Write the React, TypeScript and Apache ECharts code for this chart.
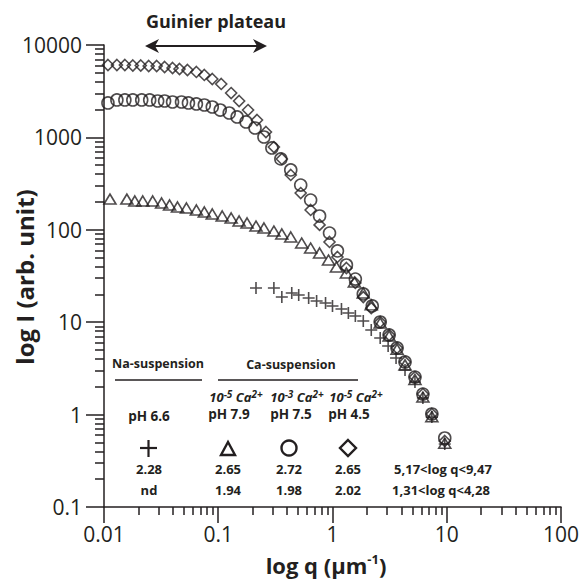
import React, { useEffect, useRef } from 'react';
import * as echarts from 'echarts';

const INK = '#231f20';
const FONT = '"Open Sans", "Noto Sans", sans-serif';

// axis ranges and tick labels
const X_MIN = 0.01;
const X_MAX = 100;
const Y_MIN = 0.1;
const Y_MAX = 10000;
const X_DECADES = [0.01, 0.1, 1, 10];
const Y_DECADES = [0.1, 1, 10, 100, 1000];
const MINOR_MULTIPLES = [2, 3, 4, 5, 6, 7, 8, 9];

// 10^-5 Ca2+, pH 4.5  (diamonds)
const diamondData = [
  [0.01083, 6075], [0.01297, 6075], [0.01523, 6075], [0.01788, 6000], [0.02098, 6000],
  [0.02462, 5926], [0.0289, 5926], [0.03392, 5780], [0.03981, 5638], [0.0458, 5499],
  [0.05375, 5363], [0.06437, 5104], [0.07555, 4736], [0.08867, 4286], [0.1062, 3785],
  [0.1297, 3023], [0.1523, 2477], [0.1824, 1979], [0.2184, 1543], [0.2615, 1144],
  [0.3069, 787], [0.3602, 584], [0.4312, 392], [0.5269, 250], [0.6437, 164],
  [0.7709, 113], [0.9417, 73.8], [1.105, 50.8], [1.324, 38.6], [1.585, 26.6],
  [1.86, 18.7], [2.184, 14.2], [2.615, 10.05], [3.132, 7.27], [3.674, 5.26],
  [4.313, 3.71], [5.27, 2.55], [6.184, 1.67], [7.407, 1.015], [9.607, 0.518],
];

// 10^-3 Ca2+, pH 7.5  (circles)
const circleData = [
  [0.01083, 2357], [0.01297, 2540], [0.01523, 2540], [0.01788, 2540], [0.02139, 2540],
  [0.02512, 2540], [0.02949, 2477], [0.03392, 2477], [0.03981, 2416], [0.04769, 2416],
  [0.05484, 2357], [0.06437, 2299], [0.07555, 2242], [0.08867, 2133], [0.1041, 1979],
  [0.1247, 1837], [0.1463, 1663], [0.1752, 1468], [0.2098, 1264], [0.2512, 1010],
  [0.2948, 768], [0.3531, 584], [0.4312, 444], [0.5269, 305], [0.6437, 210],
  [0.7709, 141], [0.9417, 92.3], [1.105, 59.0], [1.324, 41.6], [1.585, 29.3],
  [1.86, 20.2], [2.228, 15.0], [2.615, 10.05], [3.132, 7.27], [3.674, 5.26],
  [4.313, 3.71], [5.27, 2.55], [6.184, 1.67], [7.407, 1.015], [9.607, 0.558],
];

// 10^-5 Ca2+, pH 7.9  (triangles)
const triangleData = [
  [0.01128, 215], [0.01585, 215], [0.01861, 205], [0.02184, 205], [0.02668, 205],
  [0.03192, 195], [0.0375, 185.5], [0.04399, 176.5], [0.05268, 172.2], [0.06437, 163.8],
  [0.07555, 155.8], [0.08867, 148.3], [0.1083, 141.1], [0.1297, 134.2], [0.1523, 124.5],
  [0.1787, 118.5], [0.214, 109.9], [0.2512, 104.6], [0.3069, 97.0], [0.3602, 90.1],
  [0.4312, 83.6], [0.5375, 71.9], [0.6437, 63.5], [0.7709, 56.1], [0.923, 47.1],
  [1.083, 39.6], [1.324, 34.1], [1.554, 27.2], [1.86, 20.7], [2.184, 15.4],
  [2.615, 9.8], [3.132, 7.1], [3.674, 5.1], [4.313, 3.45], [5.27, 2.4],
  [6.184, 1.55], [7.407, 0.95], [9.607, 0.49],
];

// Na-suspension, pH 6.6  (plus)
const plusData = [
  [0.214, 23.45], [0.3069, 23.45], [0.3602, 18.74], [0.4399, 20.7], [0.5061, 19.7],
  [0.6185, 18.27], [0.7261, 16.96], [0.8693, 16.14], [1.0, 14.97], [1.198, 13.9],
  [1.377, 12.58], [1.585, 11.67], [1.86, 10.3], [2.184, 8.23], [2.615, 6.75],
  [3.069, 5.53], [3.601, 4.1], [4.313, 3.04], [5.27, 2.25], [6.184, 1.51],
  [7.407, 0.94], [9.607, 0.48],
];

// table texts
const TABLE_HEADERS = ['Na-suspension', 'Ca-suspension'];
const CA_LABELS = ['-5', '-3', '-5'];
const PH_LABELS = ['pH 6.6', 'pH 7.9', 'pH 7.5', 'pH 4.5'];
const ROW1 = ['2.28', '2.65', '2.72', '2.65', '5,17<log q<9,47'];
const ROW2 = ['nd', '1.94', '1.98', '2.02', '1,31<log q<4,28'];

const fmt = (v: number) => String(parseFloat(v.toPrecision(6)));

function buildGraphic(): any[] {
  const txt = (text: string, x: number, y: number, size: number) => ({
    type: 'text',
    x,
    y,
    silent: true,
    style: {
      text,
      fontSize: size,
      fontWeight: 'bold',
      fontFamily: FONT,
      fill: INK,
      align: 'center',
      verticalAlign: 'middle',
    },
  });

  const caText = (exp: string, x: number) => ({
    type: 'text',
    x,
    y: 397,
    silent: true,
    style: {
      text: `{b|10}{s|${exp}}{b| Ca}{s|2+}`,
      align: 'center',
      verticalAlign: 'middle',
      rich: {
        b: { fontSize: 13, fontWeight: 'bold', fontStyle: 'italic', fontFamily: FONT, fill: INK, lineHeight: 17 },
        s: { fontSize: 10, fontWeight: 'bold', fontStyle: 'italic', fontFamily: FONT, fill: INK, verticalAlign: 'top', lineHeight: 17 },
      },
    },
  });

  const colX = [149, 228, 289, 348, 443];

  const graphic: any[] = [
    txt('Guinier plateau', 216, 21, 18),
    { type: 'line', silent: true, shape: { x1: 154, y1: 46, x2: 258, y2: 46 }, style: { stroke: INK, lineWidth: 2 } },
    { type: 'polygon', silent: true, shape: { points: [[145, 46], [159, 39], [155, 46], [159, 53]] }, style: { fill: INK } },
    { type: 'polygon', silent: true, shape: { points: [[267, 46], [253, 39], [257, 46], [253, 53]] }, style: { fill: INK } },
    {
      type: 'text', silent: true, x: 24, y: 277, rotation: Math.PI / 2,
      style: { text: 'log I (arb. unit)', fontSize: 24, fontWeight: 'bold', fontFamily: FONT, fill: INK, align: 'center', verticalAlign: 'middle' },
    },
    {
      type: 'text', silent: true, x: 326, y: 565,
      style: {
        text: '{t|log q (µm}{s|-1}{t|)}',
        align: 'center', verticalAlign: 'middle',
        rich: {
          t: { fontSize: 22, fontWeight: 'bold', fontFamily: FONT, fill: INK, lineHeight: 26 },
          s: { fontSize: 13, fontWeight: 'bold', fontFamily: FONT, fill: INK, verticalAlign: 'top', lineHeight: 26 },
        },
      },
    },
    txt(TABLE_HEADERS[0], 158, 363, 12.5),
    txt(TABLE_HEADERS[1], 291, 364, 12.5),
    { type: 'line', silent: true, shape: { x1: 115, y1: 380, x2: 202, y2: 380 }, style: { stroke: INK, lineWidth: 1.5 } },
    { type: 'line', silent: true, shape: { x1: 218, y1: 380, x2: 358, y2: 380 }, style: { stroke: INK, lineWidth: 1.5 } },
    caText(CA_LABELS[0], 236),
    caText(CA_LABELS[1], 297),
    caText(CA_LABELS[2], 356),
    { type: 'line', silent: true, shape: { x1: 140, y1: 448, x2: 157, y2: 448 }, style: { stroke: INK, lineWidth: 2.2 } },
    { type: 'line', silent: true, shape: { x1: 148.5, y1: 440, x2: 148.5, y2: 457 }, style: { stroke: INK, lineWidth: 2.2 } },
    { type: 'polygon', silent: true, shape: { points: [[228, 442], [221, 455], [235, 455]] }, style: { fill: 'none', stroke: INK, lineWidth: 2.4 } },
    { type: 'circle', silent: true, shape: { cx: 289, cy: 448, r: 7.5 }, style: { fill: 'none', stroke: INK, lineWidth: 2.4 } },
    { type: 'polygon', silent: true, shape: { points: [[348, 440], [356, 448], [348, 456], [340, 448]] }, style: { fill: 'none', stroke: INK, lineWidth: 2.4 } },
  ];
  PH_LABELS.forEach((t, i) => graphic.push(txt(t, [149, 229, 291, 349][i], i === 0 ? 416 : 414, 13.5)));
  ROW1.forEach((t, i) => graphic.push(txt(t, colX[i], 469, 13)));
  ROW2.forEach((t, i) => graphic.push(txt(t, colX[i] + (i === 4 ? -2 : 0), 490, 13)));
  return graphic;
}

function buildOption() {
  const markerStyle = { color: 'rgba(0,0,0,0)', borderColor: INK, borderWidth: 1.6 };
  const tickLine = { color: INK, width: 1.5 };

  // minor ticks: helper linear axes counted in decades from each axis minimum
  const xLo = Math.log10(X_MIN);
  const yLo = Math.log10(Y_MIN);
  const xMinor: number[] = [];
  X_DECADES.forEach((d) => MINOR_MULTIPLES.forEach((m) => xMinor.push(Math.log10(d * m) - xLo)));
  const yMinor: number[] = [];
  Y_DECADES.forEach((d) => MINOR_MULTIPLES.forEach((m) => yMinor.push(Math.log10(d * m) - yLo)));
  const EPS = 1e-4;

  return {
    animation: false,
    grid: { left: 104, right: 18, top: 45, bottom: 75, containLabel: false },
    xAxis: [
      {
        type: 'log', logBase: 10, min: X_MIN, max: X_MAX, position: 'bottom',
        axisLine: { show: true, onZero: false, lineStyle: tickLine },
        axisTick: { show: true, length: 16, inside: false, lineStyle: tickLine },
        axisLabel: { margin: 16, fontSize: 21, fontFamily: FONT, color: INK, formatter: fmt, showMinLabel: true, showMaxLabel: true },
        splitLine: { show: false },
      },
      {
        type: 'value', min: -EPS, max: Math.log10(X_MAX) - xLo, position: 'bottom',
        axisLine: { show: false, onZero: true, onZeroAxisIndex: 1 },
        axisTick: { show: true, length: 8, inside: false, customValues: xMinor, lineStyle: tickLine },
        axisLabel: { show: false },
        splitLine: { show: false },
      },
    ],
    yAxis: [
      {
        type: 'log', logBase: 10, min: Y_MIN, max: Y_MAX, position: 'left',
        axisLine: { show: true, onZero: false, lineStyle: tickLine },
        axisTick: { show: true, length: 18, inside: false, lineStyle: tickLine },
        axisLabel: { margin: 22, fontSize: 21, fontFamily: FONT, color: INK, formatter: fmt, showMinLabel: true, showMaxLabel: true },
        splitLine: { show: false },
      },
      {
        type: 'value', min: -EPS, max: Math.log10(Y_MAX) - yLo, position: 'left',
        axisLine: { show: false, onZero: true, onZeroAxisIndex: 1 },
        axisTick: { show: true, length: 9, inside: false, customValues: yMinor, lineStyle: tickLine },
        axisLabel: { show: false },
        splitLine: { show: false },
      },
    ],
    series: [
      { name: 'pH 4.5', type: 'scatter', data: diamondData, symbol: 'diamond', symbolSize: [11, 11], itemStyle: markerStyle, clip: false },
      { name: 'pH 7.5', type: 'scatter', data: circleData, symbol: 'circle', symbolSize: 12, itemStyle: markerStyle, clip: false },
      { name: 'pH 7.9', type: 'scatter', data: triangleData, symbol: 'triangle', symbolSize: [12, 10], itemStyle: markerStyle, clip: false },
      { name: 'pH 6.6', type: 'scatter', data: plusData, symbol: 'path://M0,6L12,6M6,0L6,12', symbolSize: 12, itemStyle: markerStyle, clip: false },
    ],
    graphic: buildGraphic(),
  };
}

export default function App() {
  const ref = useRef<HTMLDivElement>(null);
  useEffect(() => {
    document.body.style.margin = '0';
    if (!ref.current) return;
    const chart = echarts.init(ref.current, null, { renderer: 'svg' });
    chart.setOption(buildOption() as any);
    return () => chart.dispose();
  }, []);
  return <div ref={ref} style={{ width: 582, height: 582, background: '#fff' }} />;
}
